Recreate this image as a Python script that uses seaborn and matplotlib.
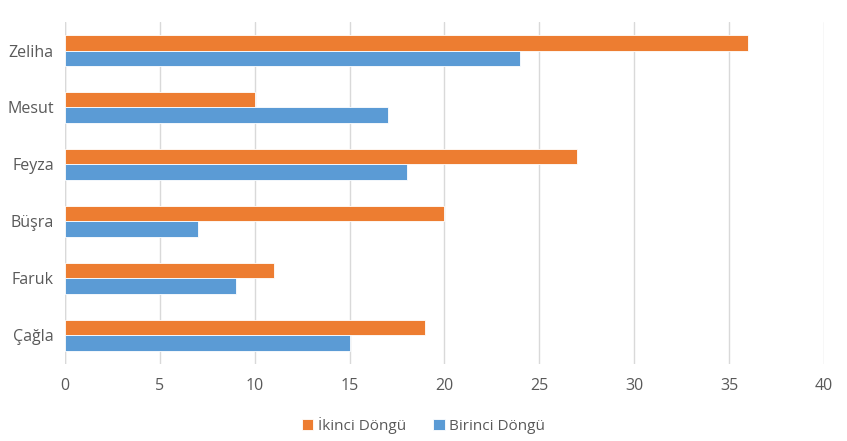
import matplotlib
matplotlib.use("Agg")
import matplotlib.pyplot as plt
import pandas as pd
import seaborn as sns

# ── Veri ──────────────────────────────────────────────────────────────────────
isimler = ["Zeliha", "Mesut", "Feyza", "Büşra", "Faruk", "Çağla"]
ikinci_dongu = [36, 10, 27, 20, 11, 19]
birinci_dongu = [24, 17, 18, 7, 9, 15]
seriler = ["İkinci Döngü", "Birinci Döngü"]
renkler = ["#ED7D31", "#5B9BD5"]

df = pd.DataFrame({
    "isim": isimler * 2,
    "deger": ikinci_dongu + birinci_dongu,
    "seri": [seriler[0]] * len(isimler) + [seriler[1]] * len(isimler),
})

# ── Grafik ────────────────────────────────────────────────────────────────────
sns.set_theme(style="white")
plt.rcParams["font.family"] = ["Open Sans", "DejaVu Sans"]

fig = plt.figure(figsize=(8.47, 4.41), dpi=100)
ax = fig.add_axes([0.0767, 0.175, 0.8961, 0.775])

sns.barplot(data=df, x="deger", y="isim", hue="seri", hue_order=seriler,
            order=isimler, palette=renkler, saturation=1, orient="h",
            width=0.54, edgecolor="white", linewidth=0.6, ax=ax, legend=True)

ax.set_xlim(0, 40)
ax.set_xticks(range(0, 41, 5))
ax.grid(axis="x", color="#D9D9D9", lw=1)
ax.set_axisbelow(True)
for s in ["top", "right", "bottom", "left"]:
    ax.spines[s].set_visible(False)
ax.axvline(0, color="#D9D9D9", lw=1, zorder=0)
ax.set_xlabel("")
ax.set_ylabel("")
ax.tick_params(axis="both", length=0, labelsize=11.5, labelcolor="#595959")
ax.tick_params(axis="x", pad=10)
ax.tick_params(axis="y", pad=8)

handles, labels = ax.get_legend_handles_labels()
ax.get_legend().remove()
fig.legend(handles, labels, loc="center", bbox_to_anchor=(0.5, 0.035),
           ncol=2, frameon=False, fontsize=11, labelcolor="#595959",
           handlelength=0.75, handleheight=0.75, handletextpad=0.3,
           columnspacing=1.8)

fig.savefig("out.png", dpi=100)
plt.close(fig)
